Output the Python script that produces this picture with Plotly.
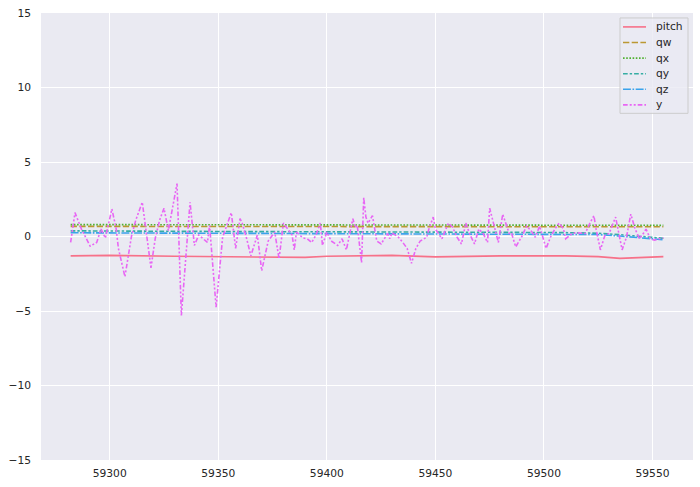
import plotly.graph_objects as go

# ---- data ----
y_x = [59282, 59284, 59287, 59291, 59294, 59296, 59298, 59301, 59303, 59304,
       59307, 59310, 59312, 59315, 59319, 59321, 59323, 59325, 59327, 59331,
       59333, 59337, 59339, 59341, 59345, 59346, 59349, 59352, 59356, 59358,
       59360, 59361, 59363, 59365, 59368, 59370, 59373, 59376, 59378, 59380,
       59384, 59385, 59386, 59389, 59391, 59393, 59395, 59397, 59398, 59400,
       59402, 59405, 59407, 59409, 59412, 59413, 59414, 59416, 59417, 59418,
       59419, 59421, 59423, 59425, 59428, 59429, 59430, 59433, 59435, 59437,
       59439, 59441, 59443, 59446, 59447, 59449, 59450, 59453, 59456, 59458,
       59460, 59462, 59464, 59466, 59468, 59470, 59472, 59474, 59475, 59477,
       59479, 59481, 59484, 59485, 59487, 59490, 59492, 59494, 59496, 59498,
       59501, 59503, 59505, 59507, 59509, 59510, 59513, 59515, 59519, 59521,
       59523, 59524, 59526, 59528, 59530, 59533, 59536, 59538, 59540, 59542,
       59544, 59546, 59547, 59549, 59551, 59553, 59555]
y_vals = [-0.4, 1.6, 0.5, -0.65, -0.4, 0.5, -0.1, 1.85, 0.5, -0.8,
          -2.7, 0.0, 1.1, 2.3, -2.1, -0.1, 1.1, 1.9, 0.4, 3.55,
          -5.3, 2.3, -0.6, 0.1, -0.4, 0.75, -4.75, -0.05, 1.6, -0.8,
          1.2, 0.9, -0.1, -1.3, 0.1, -2.3, -0.3, 0.3, -1.5, 0.9,
          0.1, -0.9, 0.3, -0.1, -0.15, -0.4, 0.1, 0.9, -0.6, 0.3,
          -0.3, -0.6, -0.15, -0.9, 1.2, 0.6, 0.75, -1.75, 2.6, 1.3,
          0.9, 1.4, -0.3, -0.5, 0.2, -0.15, 0.25, -0.05, -0.4, -0.8,
          -1.8, -0.8, -0.3, -0.05, 0.5, 1.3, 0.5, -0.15, 0.9, 0.6,
          -0.05, -0.5, 0.9, 0.1, -0.5, 0.5, 0.2, -0.4, 1.9, 0.7,
          -0.4, 1.5, 0.2, 0.25, -0.7, 0.05, 0.7, 0.4, -0.05, 0.7,
          -0.8, -0.05, 0.5, 0.9, 0.5, -0.15, 0.2, 0.25, 0.2, 0.85,
          1.4, 0.5, -0.9, 0.05, 0.2, 1.3, -0.9, -0.05, 1.5, 0.5,
          -0.15, 0.25, 0.5, -0.15, -0.25, -0.15, -0.1]

q_x = [59282, 59300, 59330, 59360, 59390, 59400, 59430, 59450, 59480,
       59510, 59525, 59535, 59545, 59555]
pitch_vals = [-1.3, -1.27, -1.33, -1.37, -1.4, -1.33, -1.27, -1.37, -1.3,
              -1.3, -1.35, -1.47, -1.4, -1.35]
qw_vals = [0.68, 0.68, 0.67, 0.66, 0.65, 0.66, 0.65, 0.64, 0.63,
           0.63, 0.64, 0.64, 0.65, 0.65]
qx_vals = [0.8, 0.8, 0.79, 0.78, 0.78, 0.79, 0.79, 0.78, 0.78,
           0.77, 0.77, 0.76, 0.75, 0.75]
qy_vals = [0.38, 0.36, 0.34, 0.33, 0.32, 0.32, 0.3, 0.29, 0.28,
           0.26, 0.22, 0.12, 0.0, -0.12]
qz_vals = [0.25, 0.24, 0.23, 0.22, 0.21, 0.21, 0.2, 0.2, 0.19,
           0.17, 0.13, 0.03, -0.1, -0.22]

series_names = ["pitch", "qw", "qx", "qy", "qz", "y"]
colors = ["#f77189", "#bb9832", "#50b131", "#36ada4", "#3ba3ec", "#e866f4"]
dashes = ["solid", "6.3px,2.4px", "1.6px,1.6px", "4.7px,2px,2.4px,2px",
          "7.9px,1.6px,1.6px,1.6px", "4.7px,2px,2px,2px,2px,2px"]

x_ticks = [59300, 59350, 59400, 59450, 59500, 59550]
x_tick_text = [str(v) for v in x_ticks]
y_ticks = [-15, -10, -5, 0, 5, 10, 15]
y_tick_text = ["\u221215", "\u221210", "\u22125", "0", "5", "10", "15"]

data_map = {"pitch": (q_x, pitch_vals), "qw": (q_x, qw_vals), "qx": (q_x, qx_vals),
            "qy": (q_x, qy_vals), "qz": (q_x, qz_vals), "y": (y_x, y_vals)}

# plot-area geometry in pixels (for the hand-drawn legend)
W, H = 700, 487
ML, MR, MT, MB = 41, 7, 11, 26
PW, PH = W - ML - MR, H - MT - MB


def px_x(px):
    return (px - ML) / PW


def px_y(py):
    return (H - MB - py) / PH


fig = go.Figure()
for name, col, dash in zip(series_names, colors, dashes):
    xs, ys = data_map[name]
    fig.add_trace(go.Scatter(x=xs, y=ys, mode="lines", name=name, showlegend=False,
                             line=dict(color=col, width=1.6, dash=dash)))

font = dict(family="DejaVu Sans", size=10.7, color="#262626")

shapes = [dict(type="rect", xref="paper", yref="paper",
               x0=px_x(620), x1=px_x(688), y0=px_y(112), y1=px_y(16),
               line=dict(color="#CCCCCC", width=1),
               fillcolor="rgba(234,234,242,0.8)", layer="above")]
annotations = []
for i, (name, col, dash) in enumerate(zip(series_names, colors, dashes)):
    row = 25 + 15.7 * i
    shapes.append(dict(type="line", xref="paper", yref="paper",
                       x0=px_x(623), x1=px_x(646), y0=px_y(row), y1=px_y(row),
                       line=dict(color=col, width=1.6, dash=dash), layer="above"))
    annotations.append(dict(xref="paper", yref="paper", x=px_x(654), y=px_y(row),
                            xanchor="left", yanchor="middle", text=name,
                            showarrow=False, font=font))

fig.update_layout(
    width=W, height=H,
    margin=dict(l=ML, r=MR, t=MT, b=MB),
    paper_bgcolor="white", plot_bgcolor="#EAEAF2",
    font=font,
    showlegend=False,
    shapes=shapes, annotations=annotations,
    xaxis=dict(range=[59268.35, 59568.65], tickvals=x_ticks, ticktext=x_tick_text,
               showgrid=True, gridcolor="white", gridwidth=1,
               zeroline=False, showline=False, ticks="", tickfont=font,
               ticklabelstandoff=5),
    yaxis=dict(range=[-15, 15], tickvals=y_ticks, ticktext=y_tick_text,
               showgrid=True, gridcolor="white", gridwidth=1,
               zeroline=False, showline=False, ticks="", tickfont=font,
               ticklabelstandoff=9),
)

fig.write_html("out.html")
